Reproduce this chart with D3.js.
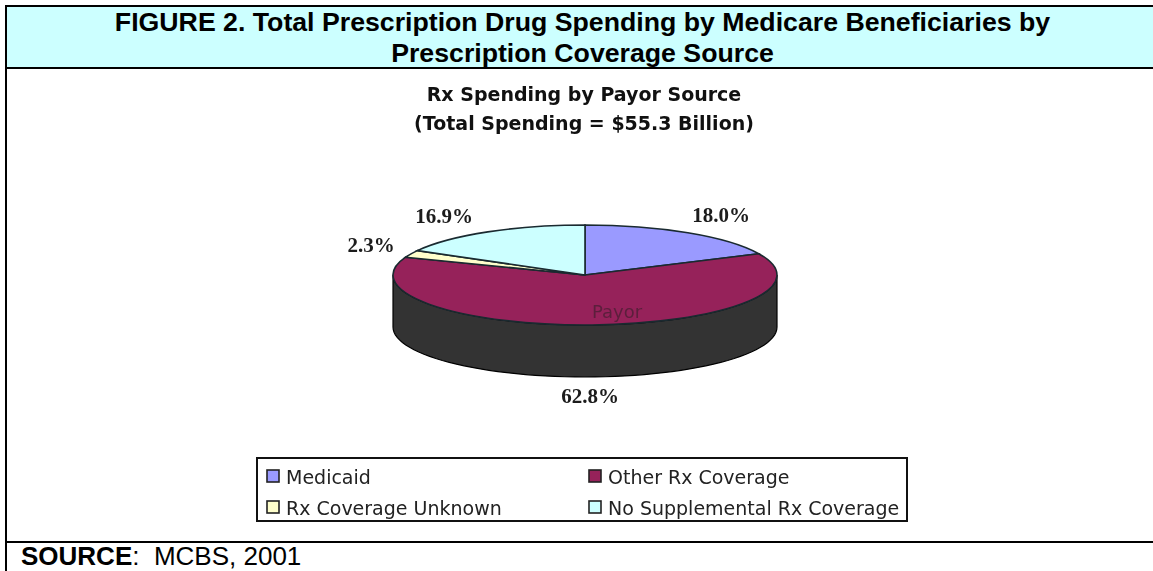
<!DOCTYPE html>
<html><head><meta charset="utf-8">
<script src="https://cdn.jsdelivr.net/npm/d3@7/dist/d3.min.js"></script>
<style>html,body{margin:0;padding:0;background:#fff}svg{display:block}</style>
</head><body><svg id="c" width="1153" height="571"></svg>
<script>
const categories=["Medicaid","Other Rx Coverage","Rx Coverage Unknown","No Supplemental Rx Coverage"];
const shares=[18.0,62.8,2.3,16.9];
const labels=["18.0%","62.8%","2.3%","16.9%"];
const colors=["#9a9aff","#96225a","#ffffcc","#ccffff"];
const figureTitle=["FIGURE 2. Total Prescription Drug Spending by Medicare Beneficiaries by","Prescription Coverage Source"];
const chartTitle=["Rx Spending by Payor Source","(Total Spending = $55.3 Billion)"];
const source=["SOURCE",":  MCBS, 2001"];

const svg=d3.select("#c");
const sans="'Liberation Sans',Arial,sans-serif", dj="'DejaVu Sans',Verdana,sans-serif", serif="'Liberation Serif',serif";

// frame
svg.append("rect").attr("x",6).attr("y",6).attr("width",1147).attr("height",62).attr("fill","#ccffff");
const rules=[[5,6,1153,6],[6,68,1153,68],[6,542,1153,542],[6,6,6,571]];
svg.selectAll(".rule").data(rules).join("line").attr("x1",d=>d[0]).attr("y1",d=>d[1]).attr("x2",d=>d[2]).attr("y2",d=>d[3]).attr("stroke","#000").attr("stroke-width",2);
svg.selectAll(".ft").data(figureTitle).join("text").attr("x",582.5).attr("y",(d,i)=>31+i*31)
 .attr("text-anchor","middle").attr("font-family",sans).attr("font-weight","bold").attr("font-size",26.7).text(d=>d);
const s=svg.append("text").attr("x",21).attr("y",565).attr("font-family",sans).attr("font-size",26).style("white-space","pre");
s.append("tspan").attr("font-weight","bold").text(source[0]);
s.append("tspan").text(source[1]);

const g=svg.append("g").style("filter","blur(0.6px)");
g.selectAll(".ct").data(chartTitle).join("text").attr("x",584).attr("y",(d,i)=>101+i*29)
 .attr("text-anchor","middle").attr("font-family",dj).attr("font-weight","bold").attr("font-size",19).attr("fill","#111").text(d=>d);

// pie
const cx=585,cy=275,rx=192,ry=50,depth=52;
const arcs=d3.pie().sort(null).value(d=>d)(shares);
const arc=d3.arc().innerRadius(0).outerRadius(rx);
const xAt=a=>cx+rx*Math.sin(a), yAt=a=>cy-ry*Math.cos(a);
// wall: front half of rim, which is the visible edge of the largest slice
const front=d3.range(0,61).map(i=>Math.PI/2+i/60*Math.PI);
const wall=d3.line()([...front.map(a=>[xAt(a),yAt(a)]),...front.slice().reverse().map(a=>[xAt(a),yAt(a)+depth])])+"Z";
g.append("path").attr("d",wall).attr("fill","#333333").attr("stroke","#000").attr("stroke-width",1.2);
const pieTop=g.append("g").attr("transform",`translate(${cx},${cy}) scale(1,${ry/rx})`);
pieTop.selectAll("path").data(arcs).join("path").attr("d",arc).attr("fill",(d,i)=>colors[i])
 .attr("stroke","#1a2a30").attr("stroke-width",1.6).attr("vector-effect","non-scaling-stroke");

const lp=[[721,222],[590,403],[371,252],[444,223]];
g.selectAll(".lb").data(labels).join("text").attr("x",(d,i)=>lp[i][0]).attr("y",(d,i)=>lp[i][1])
 .attr("text-anchor","middle").attr("font-family",serif).attr("font-weight","bold").attr("font-size",21).attr("fill","#1c1c1c").text(d=>d);
g.append("text").attr("x",617).attr("y",318).attr("text-anchor","middle").attr("font-family",dj).attr("font-size",18).attr("fill","#5c1f3c").text("Payor");

// legend
g.append("rect").attr("x",257).attr("y",458).attr("width",650).attr("height",63).attr("fill","#fff").attr("stroke","#111").attr("stroke-width",2);
const pos=[[267,470],[589,470],[267,501],[589,501]];
const order=[0,1,2,3];
g.selectAll(".sw").data(order).join("rect").attr("x",i=>pos[i][0]).attr("y",i=>pos[i][1]).attr("width",12).attr("height",12)
 .attr("fill",i=>colors[i]).attr("stroke","#222").attr("stroke-width",1.6);
g.selectAll(".lt").data(order).join("text").attr("x",i=>pos[i][0]+19).attr("y",i=>pos[i][1]+14).attr("font-family",dj).attr("font-size",19).attr("fill","#222").text(i=>categories[i]);
</script></body></html>
